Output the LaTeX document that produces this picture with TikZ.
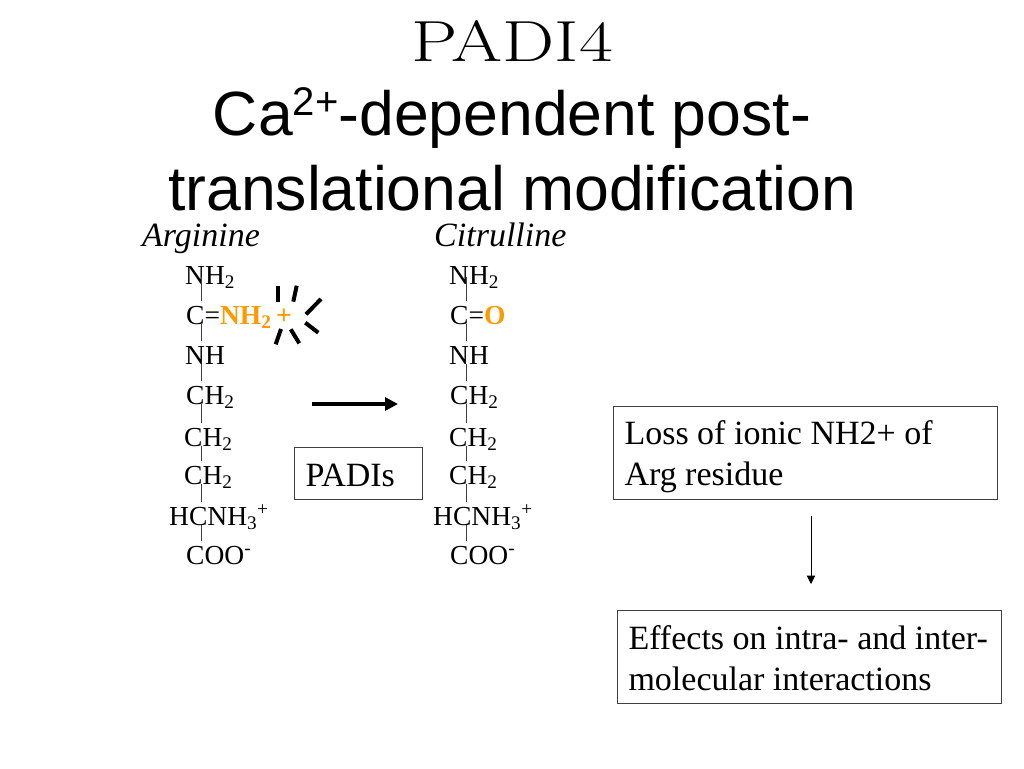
\documentclass[tikz,border=0pt]{standalone}
\usepackage{fontspec}
\setmainfont{Liberation Serif}
\newfontfamily\titlesans{Liberation Sans}
\newfontfamily\titleserif{Latin Modern Roman}
\usetikzlibrary{arrows.meta}
\definecolor{ChargeClr}{rgb}{1,0.6,0}
\definecolor{BoxClr}{rgb}{0.25,0.25,0.25}
\newcommand{\subtwo}{\textsubscript{2}}
\tikzset{
  chem/.style={inner sep=0pt,anchor=base west,text height=23pt,text depth=0pt,font=\fontsize{27.5}{27.5}\selectfont},
  chemname/.style={inner sep=0pt,anchor=base west,font=\fontsize{34}{34}\selectfont\itshape},
  headline/.style={inner sep=0pt,anchor=base,font=\fontsize{62.5}{62.5}\selectfont\titlesans},
  notebox/.style={draw=BoxClr,line width=1pt,inner xsep=11pt,inner ysep=6pt,anchor=north west,align=flush left,execute at begin node={\rule{0pt}{#1}},font=\fontsize{34}{41}\selectfont},
  bond/.style={line width=1pt,color=BoxClr},
  ray/.style={line width=4pt,color=black}
}
\begin{document}
\begin{tikzpicture}[x=1pt,y=-1pt]
\useasboundingbox (0,0) rectangle (1024,768);

\node[inner sep=0pt,anchor=base,font=\fontsize{58}{58}\selectfont\titleserif] (TitleA) at (512,61) {\scalebox{1.27}[1]{PADI4}};
\node[headline] (TitleB) at (512,135) {Ca\raisebox{20pt}{\fontsize{40}{40}\selectfont 2+}-dependent post-};
\node[headline] (TitleC) at (512,210) {translational modification};

\node[chemname] (Arg) at (142,246) {Arginine};
\node[chemname] (Cit) at (434,246) {Citrulline};

% arginine
\coordinate (ArgX) at (201,0);
\node[chem] (ArgA) at (185,284) {NH\subtwo};
\node[chem] (ArgB) at (186,324) {C=\textcolor{ChargeClr}{\bfseries NH\subtwo\,+}};
\node[chem] (ArgC) at (185,364) {NH};
\node[chem] (ArgD) at (186,404) {CH\subtwo};
\node[chem] (ArgE) at (184,446) {CH\subtwo};
\node[chem] (ArgF) at (184,484) {CH\subtwo};
\node[chem] (ArgG) at (169,525) {HCNH\textsubscript{3}\textsuperscript{+}};
\node[chem] (ArgH) at (186,564) {COO\textsuperscript{-}};

% citrulline
\coordinate (CitX) at (466,0);
\node[chem] (CitA) at (449,284) {NH\subtwo};
\node[chem] (CitB) at (450,324) {C=\textcolor{ChargeClr}{\bfseries O}};
\node[chem] (CitC) at (449,364) {NH};
\node[chem] (CitD) at (450,404) {CH\subtwo};
\node[chem] (CitE) at (449,446) {CH\subtwo};
\node[chem] (CitF) at (449,484) {CH\subtwo};
\node[chem] (CitG) at (433,525) {HCNH\textsubscript{3}\textsuperscript{+}};
\node[chem] (CitH) at (450,564) {COO\textsuperscript{-}};

\draw[bond] ([yshift=7pt]ArgA.base -| ArgX) -- (ArgB.north -| ArgX);
\draw[bond] (ArgB.base -| ArgX) -- (ArgC.north -| ArgX);
\draw[bond] (ArgC.base -| ArgX) -- (ArgD.north -| ArgX);
\draw[bond] (ArgD.base -| ArgX) -- (ArgE.north -| ArgX);
\draw[bond] (ArgE.base -| ArgX) -- (ArgF.north -| ArgX);
\draw[bond] (ArgF.base -| ArgX) -- (ArgG.north -| ArgX);
\draw[bond] (ArgG.base -| ArgX) -- (ArgH.north -| ArgX);

\draw[bond] ([yshift=7pt]CitA.base -| CitX) -- (CitB.north -| CitX);
\draw[bond] (CitB.base -| CitX) -- (CitC.north -| CitX);
\draw[bond] (CitC.base -| CitX) -- (CitD.north -| CitX);
\draw[bond] (CitD.base -| CitX) -- (CitE.north -| CitX);
\draw[bond] (CitE.base -| CitX) -- (CitF.north -| CitX);
\draw[bond] (CitF.base -| CitX) -- (CitG.north -| CitX);
\draw[bond] (CitG.base -| CitX) -- (CitH.north -| CitX);

% burst round the charge
\draw[ray] (277.7,285.7) -- (277.7,301.7);
\draw[ray] (296.7,285.7) -- (293.3,301.7);
\draw[ray] (321,299) -- (306,314.3);
\draw[ray] (305.3,322.7) -- (318.3,332.7);
\draw[ray] (290.7,329.3) -- (299.3,343.3);
\draw[ray] (281,329) -- (275.7,344.3);

\coordinate (ReactA) at (312,404);
\coordinate (ReactB) at (398,404);
\draw[line width=4pt,-{Triangle[length=13pt,width=13pt]}] (ReactA) -- (ReactB);

\node[notebox=26pt,text width=106pt,minimum height=52pt] (Padi) at (294,447) {PADIs};
\node[notebox=31pt,text width=362pt,minimum height=93pt] (Loss) at (613,406) {Loss of ionic NH2+ of\\Arg residue};
\node[notebox=26pt,text width=362pt,minimum height=93pt] (Effect) at (617,610) {Effects on intra- and inter-\\molecular interactions};

\coordinate (LossEnd) at (811,516);
\coordinate (EffectEnd) at (811,584);
\draw[line width=1pt,-{Triangle[length=8.5pt,width=8.5pt]}] (LossEnd) -- (EffectEnd);

\end{tikzpicture}
\end{document}
